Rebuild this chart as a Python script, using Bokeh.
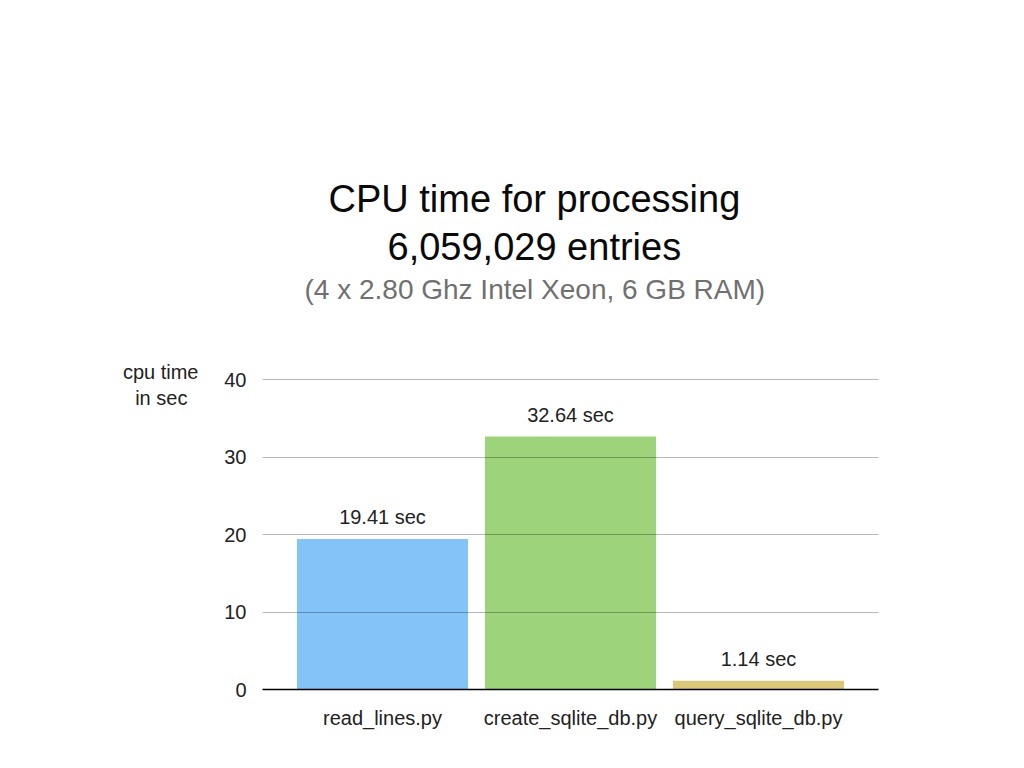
from bokeh.plotting import figure
from bokeh.models import (ColumnDataSource, FactorRange, Range1d, LabelSet, Title,
                          LinearAxis, FixedTicker)
from bokeh.core.properties import value
from bokeh.embed import file_html
from bokeh.resources import INLINE

# ---- data ----
scripts = ["read_lines.py", "create_sqlite_db.py", "query_sqlite_db.py"]
cpu_seconds = [19.41, 32.64, 1.14]
bar_colors = ["#84c3f7", "#9dd37b", "#dac77a"]
value_labels = [f"{v:.2f} sec" for v in cpu_seconds]
y_ticks = [0, 10, 20, 30, 40]
grid_ticks = [10, 20, 30, 40]
title_line1 = "CPU time for processing"
title_line2 = "6,059,029 entries"
subtitle = "(4 x 2.80 Ghz Intel Xeon, 6 GB RAM)"
y_label_text = "cpu time\nin sec\u00a0\u00a0"
y_label_at = 39.3

FONT = "Liberation Sans"

src = ColumnDataSource(dict(script=scripts, secs=cpu_seconds, color=bar_colors,
                            label=value_labels))

p = figure(width=1008, height=752,
           x_range=FactorRange(factors=scripts, range_padding=0.0922),
           y_range=Range1d(0, 40.13),
           output_backend="svg", toolbar_location=None,
           min_border_left=262, min_border_right=130,
           min_border_top=378, min_border_bottom=63,
           outline_line_color=None, background_fill_color="white",
           border_fill_color="white")
p.title.visible = False

p.vbar(x="script", top="secs", width=0.91, color="color", line_color=None, source=src)

p.add_layout(LabelSet(x="script", y="secs", text="label", source=src,
                      text_align="center", text_baseline="alphabetic", y_offset=15,
                      text_font=value(FONT), text_font_size="20px", text_color="#222222"))

p.xgrid.visible = False
p.ygrid.ticker = grid_ticks
p.ygrid.grid_line_color = "black"
p.ygrid.grid_line_alpha = 0.28
p.ygrid.level = "overlay"

p.yaxis.ticker = y_ticks
p.yaxis.axis_line_color = None
p.yaxis.major_tick_line_color = None
p.yaxis.minor_tick_line_color = None
p.yaxis.major_label_standoff = 10
p.yaxis.major_label_text_font = FONT
p.yaxis.major_label_text_font_size = "20px"
p.yaxis.major_label_text_color = "#222222"

# axis that carries the "cpu time / in sec" caption
cap_axis = LinearAxis(ticker=FixedTicker(ticks=[y_label_at]),
                      major_label_overrides={y_label_at: y_label_text},
                      axis_line_color=None, major_tick_line_color=None,
                      minor_tick_line_color=None, major_label_standoff=17,
                      major_label_text_font=FONT, major_label_text_font_size="20px",
                      major_label_text_color="#222222")
p.add_layout(cap_axis, "left")

p.xaxis.axis_line_color = "black"
p.xaxis.axis_line_width = 1.5
p.xaxis.major_tick_line_color = None
p.xaxis.minor_tick_line_color = None
p.xaxis.major_label_standoff = 11
p.xaxis.major_label_text_font = FONT
p.xaxis.major_label_text_font_size = "20px"
p.xaxis.major_label_text_color = "#222222"

# blank spacer between the frame and the subtitle
p.add_layout(Title(text=" ", text_font_size="1px", standoff=71), "above")

# titles: first added sits nearest the frame (left-aligned, shifted to be centred)
for text, size, color, gap, shift in [(subtitle, "28px", "#707070", 0, 42),
                                      (title_line2, "38px", "#0a0a0a", 8, 125),
                                      (title_line1, "38px", "#0a0a0a", 0, 66)]:
    p.add_layout(Title(text=text, align="left", offset=shift, text_font=FONT,
                       text_font_size=size, text_font_style="normal",
                       text_color=color, standoff=gap), "above")

open("out.html", "w").write(file_html(p, INLINE))
